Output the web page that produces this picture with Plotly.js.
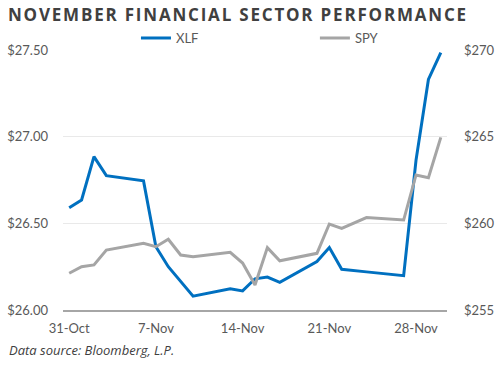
<!DOCTYPE html>
<html>
<head>
<meta charset="utf-8">
<script src="https://cdn.plot.ly/plotly-3.0.1.min.js"></script>
<style>
html, body { margin: 0; padding: 0; background: #fff; }
#chart { width: 500px; height: 367px; }
.gtitle { letter-spacing: 1.8px; }
</style>
</head>
<body>
<div id="chart"></div>
<script>
const dates = ['2017-10-31','2017-11-01','2017-11-02','2017-11-03','2017-11-06','2017-11-07','2017-11-08','2017-11-09','2017-11-10','2017-11-13','2017-11-14','2017-11-15','2017-11-16','2017-11-17','2017-11-20','2017-11-21','2017-11-22','2017-11-24','2017-11-27','2017-11-28','2017-11-29','2017-11-30'];
const xlf = [26.59,26.635,26.885,26.775,26.745,26.365,26.25,26.163,26.08,26.122,26.11,26.18,26.19,26.16,26.28,26.36,26.235,26.22,26.198,26.865,27.33,27.485];
const spy = [257.12,257.5,257.6,258.46,258.85,258.65,259.08,258.17,258.07,258.33,257.71,256.44,258.6,257.84,258.27,259.96,259.71,260.33,260.19,262.79,262.63,264.96];
const tickDates = ['2017-10-31','2017-11-07','2017-11-14','2017-11-21','2017-11-28'];
const tickLabels = ['31-Oct','7-Nov','14-Nov','21-Nov','28-Nov'];
const leftTicks = [26.0,26.5,27.0,27.5];
const leftLabels = ['$26.00','$26.50','$27.00','$27.50'];
const rightTicks = [255,260,265,270];
const rightLabels = ['$255','$260','$265','$270'];

const tickFont = {family: 'Lato, "Open Sans", sans-serif', size: 13, color: '#595959'};

const data = [
  {x: dates, y: xlf, name: 'XLF', type: 'scatter', mode: 'lines',
   line: {color: '#0070C0', width: 3}, yaxis: 'y', legend: 'legend'},
  {x: dates, y: spy, name: 'SPY', type: 'scatter', mode: 'lines',
   line: {color: '#A5A5A5', width: 3}, yaxis: 'y2', legend: 'legend2'}
];

const legendBase = {orientation: 'h', xanchor: 'left', y: 1.046, yanchor: 'middle',
                    itemwidth: 30, font: tickFont, bgcolor: 'rgba(0,0,0,0)'};

const layout = {
  width: 500, height: 367,
  margin: {l: 63, r: 53, t: 50, b: 57},
  paper_bgcolor: '#fff', plot_bgcolor: '#fff',
  title: {text: 'NOVEMBER FINANCIAL SECTOR PERFORMANCE', x: 0.016, xanchor: 'left', xref: 'container',
          y: 0.96, yanchor: 'middle', yref: 'container',
          font: {family: '"Open Sans", sans-serif', size: 17, color: '#404040', weight: 'bold'}},
  showlegend: true,
  legend: Object.assign({}, legendBase, {x: 0.19}),
  legend2: Object.assign({}, legendBase, {x: 0.656}),
  xaxis: {type: 'date', range: ['2017-10-30 12:00', '2017-11-30 12:00'],
          tickvals: tickDates, ticktext: tickLabels, tickfont: tickFont,
          showgrid: false, zeroline: false, showline: true, linecolor: '#A6A6A6', linewidth: 1.5,
          ticks: '', ticklabelstandoff: 6, fixedrange: true},
  yaxis: {range: [26.0, 27.5], tickvals: leftTicks, ticktext: leftLabels, tickfont: tickFont,
          showgrid: true, gridcolor: '#E9E9E9', gridwidth: 1, zeroline: false, showline: false,
          ticks: '', ticklabelstandoff: 14, fixedrange: true},
  yaxis2: {range: [255, 270], tickvals: rightTicks, ticktext: rightLabels, tickfont: tickFont,
           overlaying: 'y', side: 'right', showgrid: false, zeroline: false, showline: false,
           ticks: '', ticklabelstandoff: 16, fixedrange: true},
  annotations: [
    {text: 'Data source: Bloomberg, L.P.', xref: 'paper', yref: 'paper', x: -0.146, y: -0.154,
     xanchor: 'left', yanchor: 'middle', showarrow: false,
     font: {family: '"Open Sans", sans-serif', size: 13, color: '#404040', style: 'italic'}}
  ]
};

Plotly.newPlot('chart', data, layout, {displayModeBar: false, staticPlot: true});
</script>
</body>
</html>
